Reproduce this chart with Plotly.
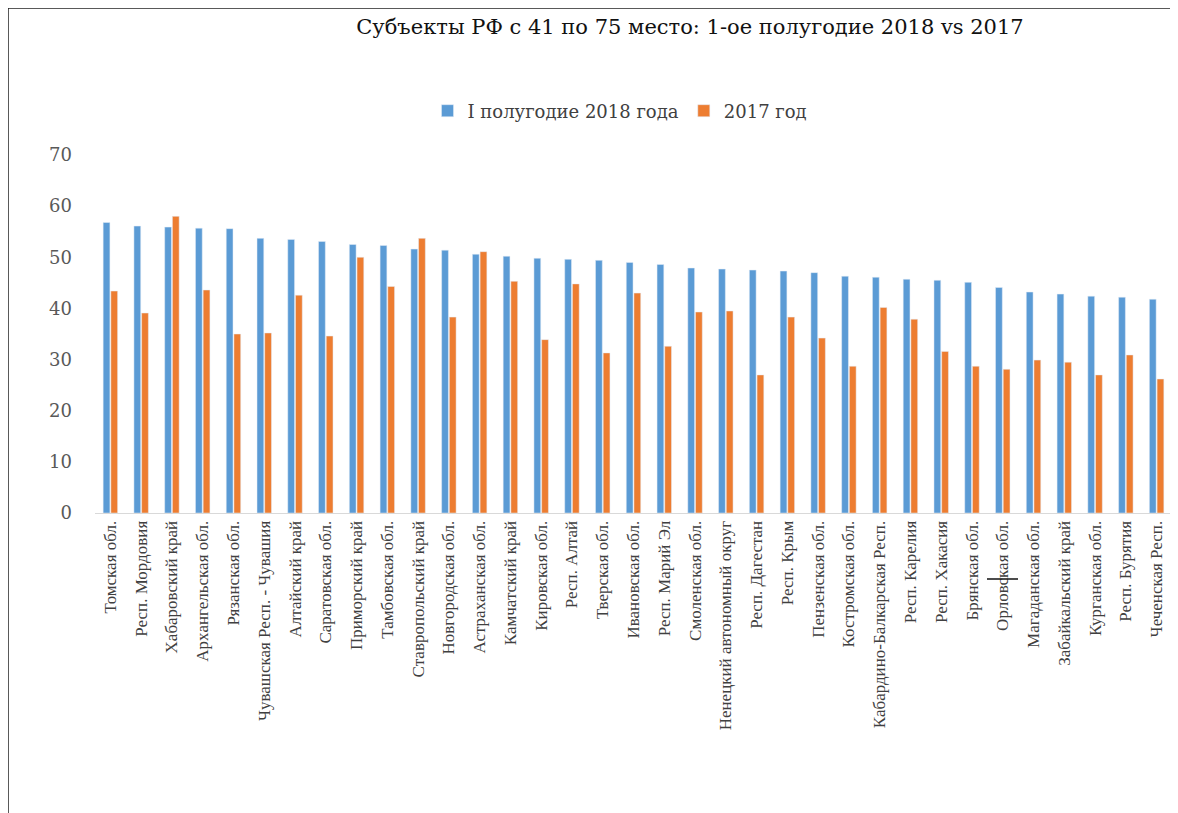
import plotly.graph_objects as go

regions = [
    "Томская обл.", "Респ. Мордовия", "Хабаровский край", "Архангельская обл.",
    "Рязанская обл.", "Чувашская Респ. - Чувашия", "Алтайский край", "Саратовская обл.",
    "Приморский край", "Тамбовская обл.", "Ставропольский край", "Новгородская обл.",
    "Астраханская обл.", "Камчатский край", "Кировская обл.", "Респ. Алтай",
    "Тверская обл.", "Ивановская обл.", "Респ. Марий Эл", "Смоленская обл.",
    "Ненецкий автономный округ", "Респ. Дагестан", "Респ. Крым", "Пензенская обл.",
    "Костромская обл.", "Кабардино-Балкарская Респ.", "Респ. Карелия", "Респ. Хакасия",
    "Брянская обл.", "Орловская обл.", "Магаданская обл.", "Забайкальский край",
    "Курганская обл.", "Респ. Бурятия", "Чеченская Респ.",
]

h1_2018 = [56.8, 56.1, 55.9, 55.7, 55.6, 53.7, 53.5, 53.1, 52.5, 52.3,
           51.6, 51.4, 50.6, 50.2, 49.8, 49.6, 49.4, 49.0, 48.6, 47.9,
           47.7, 47.5, 47.3, 47.0, 46.3, 46.1, 45.7, 45.5, 45.1, 44.1,
           43.2, 42.8, 42.4, 42.2, 41.8]

year_2017 = [43.4, 39.1, 58.0, 43.6, 35.0, 35.2, 42.6, 34.6, 50.0, 44.3,
             53.7, 38.3, 51.1, 45.3, 33.9, 44.8, 31.3, 43.0, 32.6, 39.3,
             39.5, 27.0, 38.3, 34.2, 28.7, 40.2, 37.9, 31.6, 28.7, 28.1,
             29.9, 29.5, 27.0, 30.9, 26.2]

y_ticks = [0, 10, 20, 30, 40, 50, 60, 70]

W, H = 1178, 813
OFF = 8  # page body margin shifts the figure by 8px
L, R, T, B = 87, 14, 147, 308

def px_x(x):
    # x given in screenshot pixels
    return (x - OFF - L) / (W - L - R)

def px_y(y):
    return (H - B - (y - OFF)) / (H - B - T)

fig = go.Figure()
fig.add_trace(go.Bar(x=regions, y=h1_2018, name="I полугодие 2018 года",
                     marker_color="#5B9BD5"))
fig.add_trace(go.Bar(x=regions, y=year_2017, name="2017 год",
                     marker_color="#ED7D31"))

# frame of the original picture
fig.add_shape(type="line", xref="paper", yref="paper",
              x0=px_x(8), x1=px_x(8), y0=px_y(8), y1=px_y(830),
              line=dict(color="#222222", width=1.5))
fig.add_shape(type="line", xref="paper", yref="paper",
              x0=px_x(8), x1=px_x(1190), y0=px_y(8), y1=px_y(8),
              line=dict(color="#222222", width=1.5))
# stray stroke across "Орловская обл."
fig.add_shape(type="line", xref="paper", yref="paper",
              x0=px_x(987), x1=px_x(1018), y0=px_y(579), y1=px_y(579),
              line=dict(color="#111111", width=1.5))

fig.update_layout(
    width=W, height=H,
    margin=dict(l=L, r=R, t=T, b=B),
    paper_bgcolor="white", plot_bgcolor="white",
    barmode="group", bargap=0.5, bargroupgap=0.12,
    title=dict(text="Субъекты РФ с 41 по 75 место: 1-ое полугодие 2018 vs 2017",
               x=(690 - OFF) / W, xanchor="center", y=1 - (27 - OFF) / H, yanchor="middle",
               font=dict(family="DejaVu Serif", size=21, color="#111111")),
    legend=dict(orientation="h", x=px_x(620), xanchor="center",
                y=px_y(111), yanchor="middle",
                font=dict(family="DejaVu Serif", size=18, color="#404040"),
                itemwidth=30),
    xaxis=dict(showgrid=False, showline=True, linecolor="#D9D9D9", linewidth=1,
               tickangle=-90, automargin=False, ticks="",
               tickfont=dict(family="Liberation Serif", size=17, color="#404040")),
    yaxis=dict(range=[0, 70], tickvals=y_ticks, showgrid=False, zeroline=False,
               automargin=False, ticks="", ticklabelstandoff=22,
               tickfont=dict(family="DejaVu Serif", size=18, color="#595959")),
)

fig.write_html("out.html")
